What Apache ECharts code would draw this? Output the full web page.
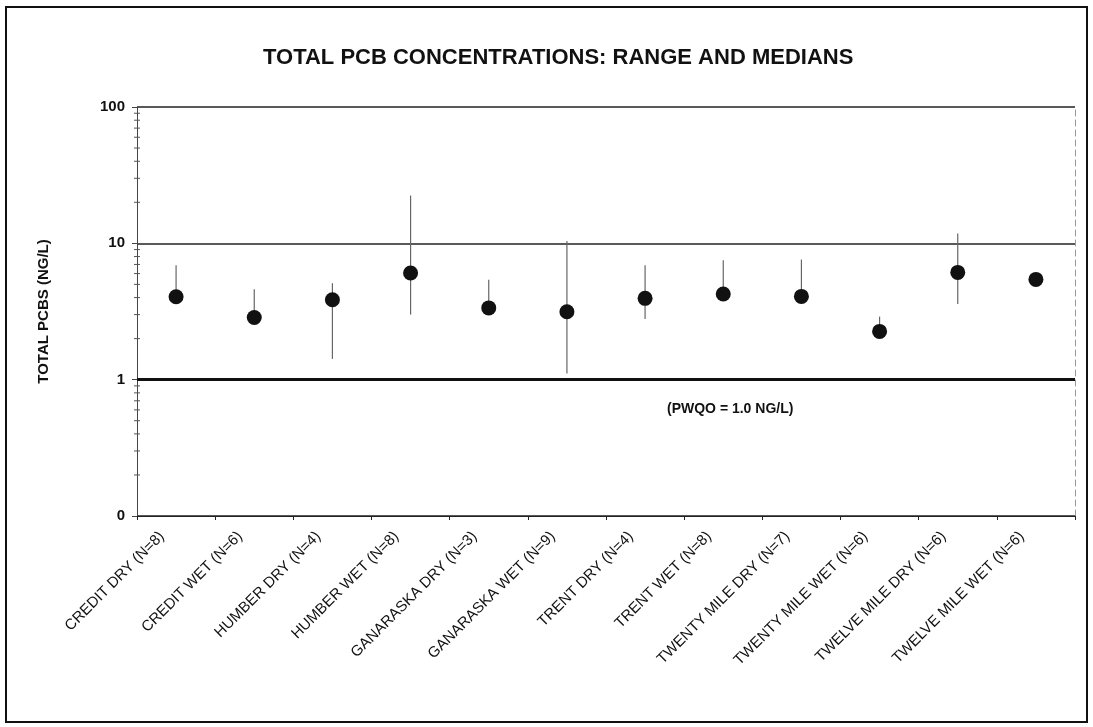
<!DOCTYPE html>
<html>
<head>
<meta charset="utf-8">
<script src="https://cdn.jsdelivr.net/npm/echarts@6/dist/echarts.min.js"></script>
<style>
  html, body { margin: 0; padding: 0; background: #fff; }
  #chart { width: 1093px; height: 727px; }
</style>
</head>
<body>
<div id="chart"></div>
<script>
// Sampling sites (wet / dry weather) and number of samples
const categories = [
  'CREDIT DRY (N=8)', 'CREDIT WET (N=6)', 'HUMBER DRY (N=4)', 'HUMBER WET (N=8)',
  'GANARASKA DRY (N=3)', 'GANARASKA WET (N=9)', 'TRENT DRY (N=4)', 'TRENT WET (N=8)',
  'TWENTY MILE DRY (N=7)', 'TWENTY MILE WET (N=6)', 'TWELVE MILE DRY (N=6)', 'TWELVE MILE WET (N=6)'
];
// Total PCB concentrations, ng/L
const medians  = [4.06, 2.86, 3.86, 6.06, 3.36, 3.15, 3.95, 4.25, 4.08, 2.26, 6.12, 5.44];
const rangeMax = [6.9, 4.6, 5.1, 22.4, 5.4, 10.4, 6.9, 7.5, 7.6, 2.9, 11.8, 5.9];
const rangeMin = [3.8, 2.7, 1.42, 3.0, 3.2, 1.11, 2.79, 4.0, 3.9, 2.1, 3.59, 5.0];
// Provincial Water Quality Objective
const pwqo = 1.0;
// Log axis labels (bottom of the scale is printed as 0)
const yTickLabels = { '100': '100', '10': '10', '1': '1', '0.1': '0' };
const decades = [0.1, 1, 10];
const minorSteps = [2, 3, 4, 5, 6, 7, 8, 9];

const FONT = '"Liberation Sans", Arial, sans-serif';

const rangeData = categories.map((c, i) => [i, rangeMin[i], rangeMax[i]]);
const minorTickData = [];
decades.forEach(d => minorSteps.forEach(s => minorTickData.push([0, +(d * s).toPrecision(3)])));

const chart = echarts.init(document.getElementById('chart'), null, { renderer: 'canvas' });

chart.setOption({
  backgroundColor: '#fff',
  animation: false,
  title: {
    text: 'TOTAL PCB CONCENTRATIONS: RANGE AND MEDIANS',
    left: 258,
    top: 42,
    textStyle: { fontFamily: FONT, fontSize: 22, fontWeight: 'bold', color: '#111' }
  },
  graphic: [
    {
      type: 'rect', z: 0, silent: true,
      shape: { x: 6, y: 7, width: 1081, height: 715 },
      style: { fill: 'none', stroke: '#111', lineWidth: 2 }
    },
    {
      type: 'text', z: 10,
      left: 667, top: 402,
      style: { text: '(PWQO = 1.0 NG/L)', font: 'bold 14px ' + FONT, fill: '#111' }
    }
  ],
  grid: { left: 137, right: 18, top: 107, bottom: 211, containLabel: false },
  xAxis: {
    type: 'category',
    data: categories,
    boundaryGap: true,
    axisLine: { lineStyle: { color: '#222', width: 1 } },
    axisTick: { show: true, length: 4, lineStyle: { color: '#222' } },
    axisLabel: {
      rotate: 45, margin: 4, interval: 0, padding: [0, 20, 0, 0],
      fontFamily: FONT, fontSize: 15, color: '#111'
    },
    splitLine: { show: false }
  },
  yAxis: [
    {
      type: 'log',
      logBase: 10,
      min: 0.1,
      max: 100,
      name: 'TOTAL PCBS (NG/L)',
      nameLocation: 'middle',
      nameRotate: 90,
      nameGap: 86,
      nameTextStyle: { fontFamily: FONT, fontSize: 15, fontWeight: 'bold', color: '#111' },
      axisLine: { show: true, lineStyle: { color: '#444', width: 1 } },
      axisTick: { show: true, length: 5, lineStyle: { color: '#444' } },
      axisLabel: {
        margin: 12, fontFamily: FONT, fontSize: 15, fontWeight: 'bold', color: '#111',
        formatter: v => yTickLabels[String(+v.toPrecision(3))] ?? ''
      },
      splitLine: { show: true, lineStyle: { color: '#222', width: 1.5 } }
    },
    {
      type: 'log', logBase: 10, min: 0.1, max: 100, position: 'right',
      axisLine: { show: true, lineStyle: { color: '#999', width: 1, type: [6, 4] } },
      axisTick: { show: false }, axisLabel: { show: false }, splitLine: { show: false }
    }
  ],
  series: [
    {
      // minor log ticks on the value axis
      type: 'custom',
      silent: true,
      data: minorTickData,
      renderItem: (params, api) => {
        const y = api.coord([0, api.value(1)])[1];
        const x0 = params.coordSys.x;
        return {
          type: 'line',
          shape: { x1: x0 - 3, y1: y, x2: x0 + 3, y2: y },
          style: { stroke: '#555', lineWidth: 1 }
        };
      }
    },
    {
      // min–max range per site
      type: 'custom',
      silent: true,
      z: 3,
      data: rangeData,
      encode: { x: 0, y: [1, 2] },
      renderItem: (params, api) => {
        const lo = api.coord([api.value(0), api.value(1)]);
        const hi = api.coord([api.value(0), api.value(2)]);
        return {
          type: 'line',
          shape: { x1: lo[0], y1: lo[1], x2: hi[0], y2: hi[1] },
          style: { stroke: '#666', lineWidth: 1.2 }
        };
      }
    },
    {
      // medians
      type: 'scatter',
      z: 5,
      symbol: 'circle',
      symbolSize: 15,
      itemStyle: { color: '#111', opacity: 1 },
      data: medians,
      markLine: {
        silent: true,
        symbol: 'none',
        label: { show: false },
        lineStyle: { color: '#111', width: 3, type: 'solid' },
        data: [{ yAxis: pwqo }]
      }
    }
  ]
});
</script>
</body>
</html>
